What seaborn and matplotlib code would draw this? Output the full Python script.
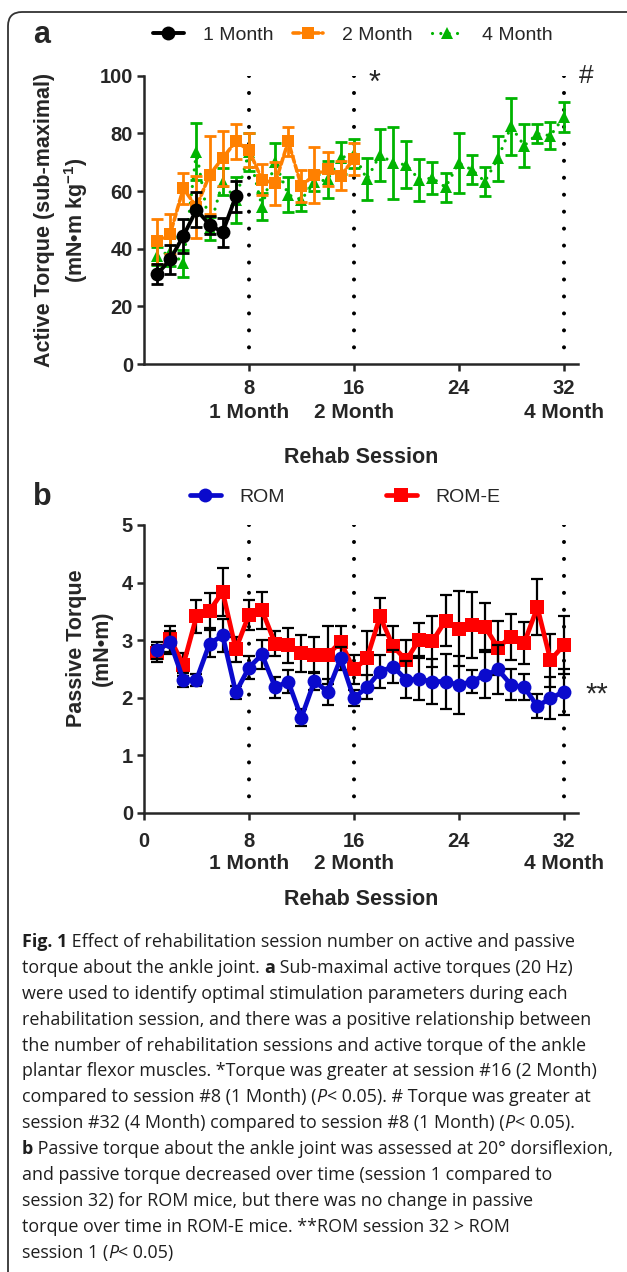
import numpy as np
import pandas as pd
import seaborn as sns
import matplotlib.pyplot as plt
import matplotlib.transforms as mtransforms
from matplotlib.patches import FancyBboxPatch
from matplotlib.font_manager import FontProperties

# panel a : active torque (mN.m/kg), mean and SEM per rehab session
session_1m = [1, 2, 3, 4, 5, 6, 7]
torque_1m = [31.1, 36.3, 44.4, 53.5, 48.3, 45.7, 58.1]
sem_1m = [3.5, 5.0, 5.8, 6.0, 3.2, 5.1, 5.3]

session_2m = list(range(1, 17))
torque_2m = [42.5, 45.2, 60.9, 54.5, 65.6, 71.4, 77.2, 74.2, 63.9, 62.7, 77.2, 61.8, 65.6, 67.6, 65.3, 71.1]
sem_2m = [7.7, 7.0, 5.5, 10.8, 13.6, 9.5, 6.0, 6.0, 5.4, 7.5, 5.0, 5.5, 9.8, 6.0, 5.0, 5.4]

session_4m = list(range(1, 33))
torque_4m = [37.5, 39.0, 35.0, 73.7, 47.0, 63.3, 56.9, 73.5, 54.5, 70.0, 58.7, 57.0, 63.0, 64.0, 71.4, 73.0,
             64.1, 72.6, 69.7, 69.1, 63.9, 64.5, 61.3, 69.7, 67.4, 63.3, 71.4, 82.4, 75.7, 79.9, 79.2, 85.6]
sem_4m = [3.0, 5.0, 4.7, 10.0, 4.0, 4.7, 8.0, 6.6, 4.7, 6.5, 6.0, 4.0, 3.0, 6.5, 5.5, 5.0,
          7.3, 9.0, 12.4, 8.2, 7.3, 5.5, 5.0, 10.3, 5.0, 5.0, 7.8, 9.8, 7.5, 3.2, 4.7, 5.3]

# panel b : passive torque (mN.m)
session_b = list(range(1, 33))
rom = [2.82, 2.96, 2.31, 2.31, 2.94, 3.08, 2.09, 2.52, 2.75, 2.18, 2.28, 1.65, 2.29, 2.10, 2.68, 1.99,
       2.18, 2.45, 2.54, 2.31, 2.32, 2.28, 2.28, 2.22, 2.28, 2.39, 2.49, 2.22, 2.18, 1.85, 1.99, 2.10]
rom_sem = [0.15, 0.20, 0.12, 0.10, 0.23, 0.28, 0.12, 0.20, 0.26, 0.18, 0.20, 0.15, 0.15, 0.22, 0.20, 0.14,
           0.21, 0.29, 0.29, 0.32, 0.37, 0.39, 0.47, 0.50, 0.20, 0.40, 0.42, 0.27, 0.23, 0.21, 0.37, 0.40]
rom_e = [2.77, 3.02, 2.57, 3.41, 3.51, 3.84, 2.84, 3.44, 3.52, 2.94, 2.91, 2.77, 2.74, 2.74, 2.97, 2.49,
         2.68, 3.41, 2.89, 2.65, 3.01, 2.98, 3.34, 3.20, 3.26, 3.23, 2.87, 3.06, 2.95, 3.57, 2.65, 2.91]
rom_e_sem = [0.15, 0.22, 0.20, 0.28, 0.30, 0.42, 0.22, 0.26, 0.32, 0.22, 0.30, 0.32, 0.32, 0.50, 0.27, 0.25,
             0.47, 0.33, 0.36, 0.35, 0.28, 0.44, 0.44, 0.65, 0.58, 0.41, 0.47, 0.40, 0.37, 0.49, 0.46, 0.50]

month_ticks = [8, 16, 32]
month_labels = ["1 Month", "2 Month", "4 Month"]

caption = [
    [("Fig. 1", "bold", "normal"), (" Effect of rehabilitation session number on active and passive", "normal", "normal")],
    [("torque about the ankle joint. ", "normal", "normal"), ("a", "bold", "normal"), (" Sub-maximal active torques (20 Hz)", "normal", "normal")],
    [("were used to identify optimal stimulation parameters during each", "normal", "normal")],
    [("rehabilitation session, and there was a positive relationship between", "normal", "normal")],
    [("the number of rehabilitation sessions and active torque of the ankle", "normal", "normal")],
    [("plantar flexor muscles. *Torque was greater at session #16 (2 Month)", "normal", "normal")],
    [("compared to session #8 (1 Month) (", "normal", "normal"), ("P", "normal", "italic"), ("< 0.05). # Torque was greater at", "normal", "normal")],
    [("session #32 (4 Month) compared to session #8 (1 Month) (", "normal", "normal"), ("P", "normal", "italic"), ("< 0.05).", "normal", "normal")],
    [("b", "bold", "normal"), (" Passive torque about the ankle joint was assessed at 20\u00b0 dorsiflexion,", "normal", "normal")],
    [("and passive torque decreased over time (session 1 compared to", "normal", "normal")],
    [("session 32) for ROM mice, but there was no change in passive", "normal", "normal")],
    [("torque over time in ROM-E mice. **ROM session 32 > ROM", "normal", "normal")],
    [("session 1 (", "normal", "normal"), ("P", "normal", "italic"), ("< 0.05)", "normal", "normal")],
]

W, H = 627, 1272
BLACK, ORANGE, GREEN = "#000000", "#ff8000", "#00b400"
BLUE, RED = "#0a0acc", "#ff0000"
CAP_FONT = "Open Sans"


def fy(y_px):
    return 1 - y_px / H


def draw_series(ax, x, y, err, color, marker, ms, ls, lw, label, z, ecolor=None, elw=2.0, cap=4.5):
    df = pd.DataFrame({"session": x, "value": y})
    sns.lineplot(data=df, x="session", y="value", ax=ax, color=color, marker=marker,
                 markersize=ms, markeredgecolor=color, markeredgewidth=0, linestyle=ls,
                 linewidth=lw, dash_capstyle="round", errorbar=None, legend=False, zorder=z)
    line = ax.lines[-1]
    line.set_label(label)
    ax.errorbar(x, y, yerr=err, fmt="none", ecolor=ecolor or color, elinewidth=elw,
                capsize=cap, capthick=elw, zorder=z - 0.5)
    return line


def style_axis(ax, ylim, yticks, xticks, tick_pad):
    ax.set_xlim(0, 33.1)
    ax.set_ylim(*ylim)
    ax.set_xticks(xticks)
    ax.set_yticks(yticks)
    sns.despine(ax=ax)
    for s in ["left", "bottom"]:
        ax.spines[s].set_linewidth(1.8)
    ax.tick_params(width=1.8, length=5, labelsize=14.5, direction="out")
    ax.tick_params(axis="x", pad=tick_pad)
    ax.tick_params(axis="y", pad=3)
    for lbl in ax.get_xticklabels() + ax.get_yticklabels():
        lbl.set_fontweight("bold")
    ax.grid(False)


def dotted_vlines(ax, top):
    for x in month_ticks:
        ax.plot([x, x], [top, 0], color="black", lw=2.9, linestyle=(0, (0.01, 4.2)),
                dash_capstyle="round", zorder=0.5)


def month_text(ax, yfrac):
    for x, lab in zip(month_ticks, month_labels):
        ax.text(x, yfrac, lab, transform=ax.get_xaxis_transform(), ha="center", va="center",
                fontsize=15, fontweight="bold")


def main():
    sns.set_style("ticks")
    plt.rcParams["font.family"] = ["Liberation Sans", "DejaVu Sans"]
    plt.rcParams["mathtext.fontset"] = "custom"
    plt.rcParams["mathtext.rm"] = "Liberation Sans"
    plt.rcParams["mathtext.bf"] = "Liberation Sans:bold"
    plt.rcParams["mathtext.it"] = "Liberation Sans:italic"

    fig = plt.figure(figsize=(W / 100, H / 100), dpi=100)
    ax_a = fig.add_axes([144 / W, fy(364), 434 / W, (364 - 75.7) / H])
    ax_b = fig.add_axes([144 / W, fy(812.7), 434 / W, (812.7 - 525) / H])

    # ---- panel a
    dotted_vlines(ax_a, 100)
    h4 = draw_series(ax_a, session_4m, torque_4m, sem_4m, GREEN, "^", 8.5, (0, (0.01, 2.6)), 2.3, "4 Month", 3)
    h2 = draw_series(ax_a, session_2m, torque_2m, sem_2m, ORANGE, "s", 9, (0, (1.8, 0.9)), 2.6, "2 Month", 4)
    h1 = draw_series(ax_a, session_1m, torque_1m, sem_1m, BLACK, "o", 10, "-", 2.8, "1 Month", 5)
    style_axis(ax_a, (0, 100), [0, 20, 40, 60, 80, 100], [8, 16, 24, 32], 6)
    ax_a.set_ylabel("Active Torque (sub-maximal)\n(mN\u2022m kg$^{\\mathbf{-1}}$)", fontsize=15.5,
                    fontweight="bold", linespacing=1.35)
    ax_a.yaxis.set_label_coords(-0.189, 0.5)
    ax_a.yaxis.label.set_va("center")
    ax_a.set_xlabel("Rehab Session", fontsize=15.5, fontweight="bold")
    ax_a.xaxis.set_label_coords(0.5, -0.326)
    ax_a.xaxis.label.set_va("center")
    month_text(ax_a, -0.1665)
    ax_a.text(17.6, 97.0, "*", ha="center", va="center", fontsize=22, clip_on=False)
    ax_a.text(33.7, 100, "#", ha="center", va="center", fontsize=19, clip_on=False)
    ax_a.legend([h1, h2, h4], ["1 Month", "2 Month", "4 Month"], loc="center",
                bbox_to_anchor=(353 / W, fy(35)), bbox_transform=fig.transFigure, ncol=3,
                frameon=False, fontsize=14, handlelength=1.55, handletextpad=1.0,
                columnspacing=1.0, borderpad=0)

    # ---- panel b
    dotted_vlines(ax_b, 5)
    hr = draw_series(ax_b, session_b, rom_e, rom_e_sem, RED, "s", 9.5, "-", 3.4, "ROM-E", 3,
                     ecolor="black", elw=1.6)
    hb = draw_series(ax_b, session_b, rom, rom_sem, BLUE, "o", 10, "-", 3.4, "ROM", 4,
                     ecolor="black", elw=1.6)
    style_axis(ax_b, (0, 5), [0, 1, 2, 3, 4, 5], [0, 8, 16, 24, 32], 9)
    ax_b.set_ylabel("Passive Torque\n(mN\u2022m)", fontsize=15.5, fontweight="bold", linespacing=1.35)
    ax_b.yaxis.set_label_coords(-0.126, 0.572)
    ax_b.yaxis.label.set_va("center")
    ax_b.set_xlabel("Rehab Session", fontsize=15.5, fontweight="bold")
    ax_b.xaxis.set_label_coords(0.5, -0.303)
    ax_b.xaxis.label.set_va("center")
    month_text(ax_b, -0.178)
    ax_b.text(34.5, 2.05, "**", ha="center", va="center", fontsize=21, clip_on=False)
    ax_b.legend([hb, hr], ["ROM", "ROM-E"], loc="center",
                bbox_to_anchor=(345 / W, fy(497)), bbox_transform=fig.transFigure, ncol=2,
                frameon=False, fontsize=14, handlelength=1.6, handletextpad=0.95,
                columnspacing=5.2, borderpad=0)

    # panel letters
    fig.text(42 / W, fy(35), "a", fontsize=22, fontweight="bold", ha="center", va="center")
    fig.text(42 / W, fy(497), "b", fontsize=22, fontweight="bold", ha="center", va="center")

    # caption, drawn piece by piece so bold / italic words sit inline
    renderer = fig.canvas.get_renderer()

    def seg_width(txt, prop):
        bar = renderer.get_text_width_height_descent("||", prop, ismath=False)[0]
        return renderer.get_text_width_height_descent("|" + txt + "|", prop, ismath=False)[0] - bar

    def line_width(parts, size):
        return sum(seg_width(t, FontProperties(family=CAP_FONT, size=size, weight=w, style=s))
                   for t, w, s in parts)

    cap_size = 11 * 552 / line_width(caption[1], 11)
    for i, parts in enumerate(caption):
        x = 22.0
        y = 942 + 25.9 * i
        for txt, weight, style in parts:
            prop = FontProperties(family=CAP_FONT, size=cap_size, weight=weight, style=style)
            fig.text(x / W, fy(y), txt, fontproperties=prop, ha="left", va="center", color="#1e1e1e")
            x += seg_width(txt, prop)

    border = FancyBboxPatch((8, -40), 700, H - 12 + 40, boxstyle="round,pad=0,rounding_size=14",
                            transform=mtransforms.IdentityTransform(), fill=False,
                            edgecolor="#333333", linewidth=1.3)
    fig.add_artist(border)

    fig.savefig("out.png", dpi=100)


if __name__ == "__main__":
    main()
